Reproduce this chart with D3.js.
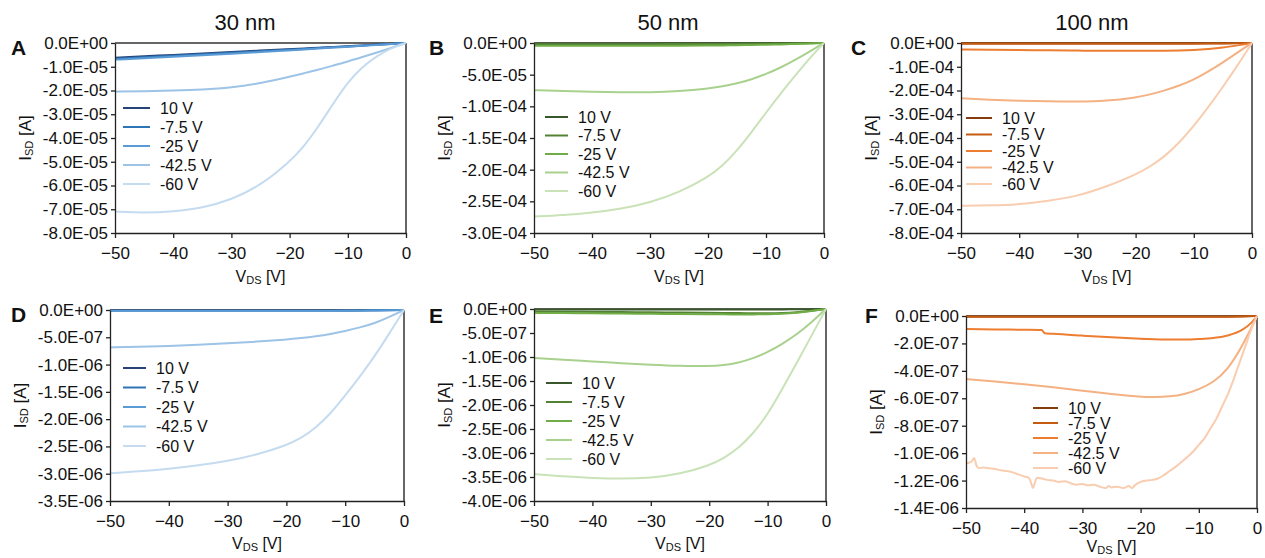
<!DOCTYPE html>
<html>
<head>
<meta charset="utf-8">
<script src="https://cdn.jsdelivr.net/npm/d3@7"></script>
<style>
  body { margin: 0; background: #fff; }
  svg text { font-family: "Liberation Sans", Arial, sans-serif; fill: #111; }
</style>
</head>
<body>
<svg id="chart" width="1265" height="558"></svg>
<script>
// gate voltages (legend) and colour ramps per thickness
const gates = ["10 V", "-7.5 V", "-25 V", "-42.5 V", "-60 V"];
const blues = ["#264478", "#2e75b6", "#5b9bd5", "#9dc3e6", "#c5dbf0"];
const greens = ["#38572a", "#548235", "#70ad47", "#a9d18e", "#c9e2b8"];
const oranges = ["#843c0c", "#c55a11", "#ed7d31", "#f4b183", "#f8cdb0"];

// drain-source voltage sweep (V)
const vds = [-50, -45, -40, -35, -30, -25, -20, -17.5, -15, -12.5, -10, -7.5, -5, -2.5, 0];
const vdsTicks = [-50, -40, -30, -20, -10, 0];

// A - 30 nm, I_SD in units of 1e-5 A
const isdA = [
  [-0.62, -0.56, -0.50, -0.44, -0.38, -0.32, -0.26, -0.23, -0.20, -0.17, -0.14, -0.10, -0.07, -0.03, 0],
  [-0.66, -0.60, -0.54, -0.48, -0.41, -0.35, -0.28, -0.25, -0.21, -0.18, -0.15, -0.11, -0.07, -0.04, 0],
  [-0.70, -0.64, -0.58, -0.52, -0.45, -0.38, -0.31, -0.27, -0.23, -0.19, -0.16, -0.12, -0.08, -0.04, 0],
  [-2.05, -2.03, -2.00, -1.96, -1.88, -1.70, -1.42, -1.27, -1.12, -0.95, -0.78, -0.59, -0.40, -0.20, 0],
  [-7.10, -7.15, -7.10, -6.95, -6.60, -6.00, -5.00, -4.35, -3.50, -2.55, -1.65, -1.00, -0.55, -0.20, 0]
];
const ticksA = [0, -1, -2, -3, -4, -5, -6, -7, -8];

// B - 50 nm, units of 1e-4 A
const isdB = [
  [-0.010, -0.009, -0.008, -0.007, -0.006, -0.005, -0.004, -0.0035, -0.003, -0.0025, -0.002, -0.0015, -0.001, -0.0005, 0],
  [-0.020, -0.020, -0.020, -0.019, -0.018, -0.017, -0.016, -0.015, -0.014, -0.012, -0.010, -0.008, -0.006, -0.003, 0],
  [-0.045, -0.045, -0.045, -0.044, -0.043, -0.042, -0.040, -0.038, -0.035, -0.032, -0.028, -0.022, -0.016, -0.008, 0],
  [-0.745, -0.760, -0.770, -0.780, -0.780, -0.760, -0.720, -0.685, -0.640, -0.575, -0.490, -0.390, -0.270, -0.135, 0],
  [-2.74, -2.72, -2.68, -2.62, -2.52, -2.36, -2.12, -1.94, -1.70, -1.41, -1.10, -0.80, -0.52, -0.24, 0]
];
const ticksB = [0, -0.5, -1.0, -1.5, -2.0, -2.5, -3.0];

// C - 100 nm, units of 1e-4 A
const isdC = [
  [-0.015, -0.015, -0.015, -0.015, -0.015, -0.015, -0.015, -0.015, -0.015, -0.014, -0.012, -0.010, -0.007, -0.004, 0],
  [-0.035, -0.035, -0.035, -0.035, -0.035, -0.035, -0.035, -0.034, -0.033, -0.031, -0.028, -0.023, -0.017, -0.009, 0],
  [-0.27, -0.28, -0.29, -0.31, -0.32, -0.33, -0.33, -0.33, -0.33, -0.32, -0.30, -0.26, -0.20, -0.10, 0],
  [-2.33, -2.39, -2.43, -2.46, -2.47, -2.44, -2.30, -2.17, -2.00, -1.80, -1.55, -1.20, -0.82, -0.40, 0],
  [-6.85, -6.84, -6.80, -6.65, -6.45, -6.05, -5.55, -5.20, -4.78, -4.20, -3.50, -2.70, -1.85, -0.95, 0]
];
const ticksC = [0, -1, -2, -3, -4, -5, -6, -7, -8];

// D - 30 nm, units of 1e-6 A
const isdD = [
  [-0.010, -0.010, -0.010, -0.010, -0.010, -0.010, -0.010, -0.010, -0.010, -0.010, -0.008, -0.006, -0.004, -0.002, 0],
  [-0.015, -0.015, -0.015, -0.015, -0.015, -0.014, -0.014, -0.013, -0.013, -0.012, -0.011, -0.009, -0.006, -0.003, 0],
  [-0.020, -0.020, -0.020, -0.020, -0.020, -0.020, -0.020, -0.020, -0.019, -0.018, -0.016, -0.013, -0.009, -0.005, 0],
  [-0.685, -0.675, -0.660, -0.640, -0.612, -0.580, -0.542, -0.515, -0.482, -0.440, -0.385, -0.320, -0.245, -0.130, 0],
  [-2.99, -2.96, -2.91, -2.85, -2.77, -2.65, -2.48, -2.35, -2.16, -1.90, -1.57, -1.22, -0.85, -0.43, 0]
];
const ticksD = [0, -0.5, -1.0, -1.5, -2.0, -2.5, -3.0, -3.5];

// E - 50 nm, units of 1e-6 A
const isdE = [
  [-0.010, -0.010, -0.010, -0.010, -0.010, -0.010, -0.010, -0.010, -0.010, -0.010, -0.009, -0.008, -0.006, -0.003, 0],
  [-0.050, -0.055, -0.060, -0.065, -0.070, -0.075, -0.080, -0.082, -0.085, -0.087, -0.088, -0.085, -0.070, -0.040, 0],
  [-0.080, -0.085, -0.090, -0.095, -0.100, -0.105, -0.110, -0.112, -0.113, -0.113, -0.110, -0.100, -0.080, -0.045, 0],
  [-1.02, -1.06, -1.09, -1.13, -1.16, -1.185, -1.195, -1.17, -1.12, -1.03, -0.90, -0.73, -0.53, -0.28, 0],
  [-3.44, -3.49, -3.52, -3.54, -3.52, -3.44, -3.26, -3.11, -2.90, -2.60, -2.20, -1.67, -1.12, -0.56, 0]
];
const ticksE = [0, -0.5, -1.0, -1.5, -2.0, -2.5, -3.0, -3.5, -4.0];

// F - 100 nm, units of 1e-7 A (two series measured on their own voltage grid)
const isdF10 = [-0.03, -0.03, -0.03, -0.03, -0.03, -0.03, -0.03, -0.03, -0.03, -0.03, -0.03, -0.03, -0.03, -0.02, 0];
const isdF75 = [-0.06, -0.06, -0.06, -0.06, -0.06, -0.06, -0.06, -0.06, -0.06, -0.06, -0.06, -0.06, -0.05, -0.03, 0];
const vdsF25 = [-50, -45, -40, -37, -36.5, -35, -30, -25, -20, -15, -12.5, -10, -7.5, -5, -2.5, -1, 0];
const isdF25 = [-0.95, -0.98, -1.00, -1.02, -1.25, -1.30, -1.43, -1.55, -1.65, -1.72, -1.72, -1.68, -1.60, -1.42, -1.00, -0.50, 0];
const isdF42 = [-4.60, -4.78, -4.98, -5.20, -5.44, -5.70, -5.90, -5.92, -5.88, -5.72, -5.35, -4.85, -3.90, -2.20, 0];
const vdsF60 = [-50, -49.5, -49, -48.6, -48.2, -47.8, -47, -46, -45, -44, -43, -42, -41, -40, -39.2, -38.8, -38.5, -38.2, -37.8, -37,
  -36, -35, -34, -33, -32, -31, -30, -29, -28, -27, -26, -25.5, -25, -24, -23, -22, -21.5, -21, -20, -19,
  -18, -17, -16, -15, -14, -13, -12, -11, -10, -9, -8, -7, -6, -5, -4, -3, -2, -1, 0];
const isdF60 = [-10.75, -10.70, -10.60, -10.35, -10.90, -11.10, -11.05, -11.10, -11.15, -11.25, -11.30, -11.40, -11.55, -11.70, -11.80, -12.20, -12.55, -12.20, -11.80, -11.85,
  -11.95, -12.00, -12.10, -12.05, -12.20, -12.30, -12.25, -12.35, -12.30, -12.45, -12.55, -12.40, -12.50, -12.45, -12.55, -12.40, -12.55, -12.35, -12.10, -12.00,
  -11.95, -11.85, -11.60, -11.30, -11.00, -10.65, -10.30, -9.90, -9.40, -8.90, -8.20, -7.50, -6.60, -5.70, -4.60, -3.40, -2.20, -1.00, 0];
const ticksF = [0, -2, -4, -6, -8, -10, -12, -14];

// panel layout
const panels = [
  { tag: "A", tagX: 11, tagY: 55, title: "30 nm", titleX: 245, unit: 1e-5, ticks: ticksA, series: isdA, colors: blues,
    box: { l: 115, r: 406, t: 43, b: 233 }, leg: { x: 123, y: 108, dy: 19, len: 27 }, xlab: 49 },
  { tag: "B", tagX: 429, tagY: 55, title: "50 nm", titleX: 668, unit: 1e-4, ticks: ticksB, series: isdB, colors: greens,
    box: { l: 534, r: 824, t: 43, b: 233 }, leg: { x: 545, y: 117, dy: 18.5, len: 23 }, xlab: 49 },
  { tag: "C", tagX: 851, tagY: 55, title: "100 nm", titleX: 1092, unit: 1e-4, ticks: ticksC, series: isdC, colors: oranges,
    box: { l: 961, r: 1252, t: 43, b: 233 }, leg: { x: 966, y: 118, dy: 16.5, len: 26 }, xlab: 49 },
  { tag: "D", tagX: 11, tagY: 322, unit: 1e-6, ticks: ticksD, series: isdD, colors: blues,
    box: { l: 110, r: 404, t: 310, b: 501 }, leg: { x: 123, y: 368, dy: 19.5, len: 23 }, xlab: 48 },
  { tag: "E", tagX: 429, tagY: 323, unit: 1e-6, ticks: ticksE, series: isdE, colors: greens,
    box: { l: 534, r: 826, t: 309, b: 501 }, leg: { x: 546, y: 383, dy: 19, len: 26 }, xlab: 48 },
  { tag: "F", tagX: 865, tagY: 323, unit: 1e-7, ticks: ticksF, series: [isdF10, isdF75, isdF25, isdF42, isdF60],
    xs: [vds, vds, vdsF25, vds, vdsF60], raw: [2, 4], colors: oranges,
    box: { l: 966, r: 1257, t: 316, b: 508 }, leg: { x: 1033, y: 408, dy: 15, len: 25 }, xlab: 44 }
];

// Excel-like scientific labels, e.g. -1.5E-04
function sci(v) {
  const [m, e] = v.toExponential(1).split("e");
  return m + "E" + e[0] + e.slice(1).padStart(2, "0");
}

const svg = d3.select("#chart");

panels.forEach(p => {
  const g = svg.append("g");
  const b = p.box;
  const x = d3.scaleLinear().domain([-50, 0]).range([b.l, b.r]);
  const y = d3.scaleLinear().domain([p.ticks[p.ticks.length - 1], 0]).range([b.b, b.t]);

  // frame lines at I=0 and V=0
  g.append("line").attr("x1", b.l).attr("x2", b.r).attr("y1", y(0)).attr("y2", y(0))
    .attr("stroke", "#333").attr("stroke-width", 1.5);
  g.append("line").attr("x1", x(0)).attr("x2", x(0)).attr("y1", b.t).attr("y2", b.b)
    .attr("stroke", "#666").attr("stroke-width", 2);

  // curves: smooth sweeps get a basis spline, noisy / stepped ones stay as measured
  const smooth = d3.line().x(d => x(d[0])).y(d => y(d[1])).curve(d3.curveBasis);
  const raw = d3.line().x(d => x(d[0])).y(d => y(d[1])).curve(d3.curveMonotoneX);
  p.series.forEach((s, i) => {
    const xs = p.xs ? p.xs[i] : vds;
    const gen = p.raw && p.raw.includes(i) ? raw : smooth;
    g.append("path")
      .datum(xs.map((v, j) => [v, s[j]]))
      .attr("d", gen)
      .attr("fill", "none")
      .attr("stroke", p.colors[i])
      .attr("stroke-width", 2);
  });

  // axes
  const yAxis = d3.axisLeft(y).tickValues(p.ticks).tickSize(4).tickPadding(3).tickSizeOuter(0)
    .tickFormat(t => sci(t * p.unit));
  const xAxis = d3.axisBottom(x).tickValues(vdsTicks).tickSize(5).tickPadding(9).tickSizeOuter(0)
    .tickFormat(d3.format("d"));
  [[yAxis, `translate(${b.l},0)`], [xAxis, `translate(0,${b.b})`]].forEach(([ax, tr]) => {
    g.append("g").attr("transform", tr).call(ax)
      .attr("font-size", null).attr("font-family", null)
      .call(a => a.selectAll("line,path").attr("stroke", "#222").attr("stroke-width", 1.3))
      .call(a => a.selectAll("text").style("font-size", "17px").attr("fill", "#111"));
  });

  // axis titles
  const xl = g.append("text").attr("x", (b.l + b.r) / 2).attr("y", b.b + p.xlab)
    .attr("text-anchor", "middle").style("font-size", "16px");
  xl.append("tspan").text("V");
  xl.append("tspan").text("DS").style("font-size", "11px").attr("dy", 2);
  xl.append("tspan").text(" [V]").attr("dy", -2);

  const yl = g.append("text")
    .attr("transform", `translate(${b.l - 84},${(b.t + b.b) / 2}) rotate(-90)`)
    .attr("text-anchor", "middle").style("font-size", "17px");
  yl.append("tspan").text("I");
  yl.append("tspan").text("SD").style("font-size", "11px").attr("dy", 2);
  yl.append("tspan").text(" [A]").attr("dy", -2);

  // legend
  p.colors.forEach((c, i) => {
    const yy = p.leg.y + i * p.leg.dy;
    g.append("line").attr("x1", p.leg.x).attr("x2", p.leg.x + p.leg.len)
      .attr("y1", yy).attr("y2", yy).attr("stroke", c).attr("stroke-width", 2);
    g.append("text").attr("x", p.leg.x + p.leg.len + 10).attr("y", yy).attr("dy", "0.35em")
      .style("font-size", "16px").text(gates[i]);
  });

  // panel letter and column title
  g.append("text").attr("x", p.tagX).attr("y", p.tagY)
    .style("font-size", "21px").style("font-weight", "bold").text(p.tag);
  if (p.title) {
    g.append("text").attr("x", p.titleX).attr("y", 30).attr("text-anchor", "middle")
      .style("font-size", "22px").text(p.title);
  }
});
</script>
</body>
</html>
